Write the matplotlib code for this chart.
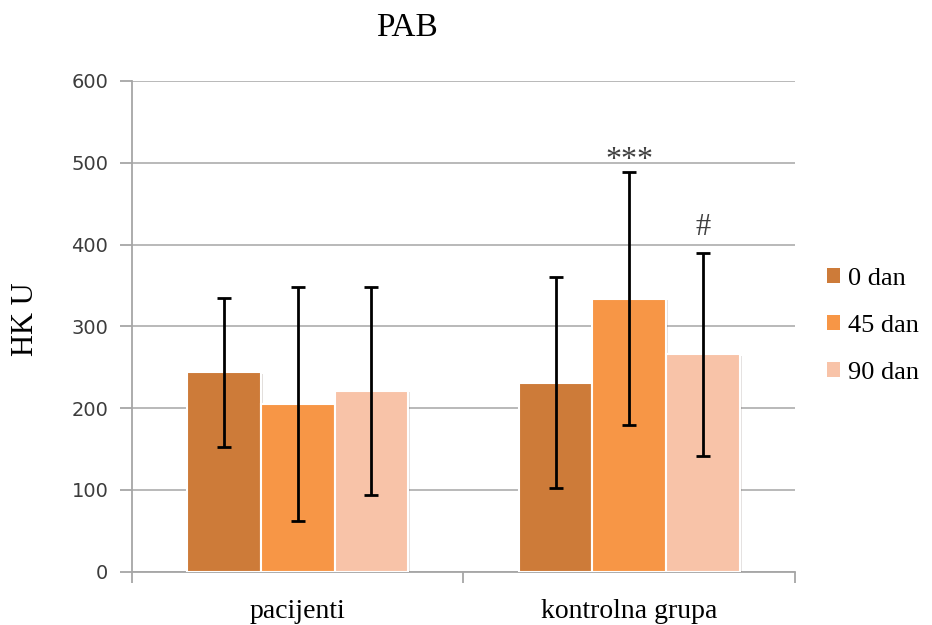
import matplotlib
matplotlib.use("Agg")
import matplotlib.pyplot as plt
import matplotlib.patheffects as pe
from matplotlib.patches import Patch
import numpy as np

# data
categories = ["pacijenti", "kontrolna grupa"]
series = ["0 dan", "45 dan", "90 dan"]
means_0 = [244, 231]
means_45 = [205, 334]
means_90 = [221, 266]
err_0 = [91, 129]
err_45 = [143, 155]
err_90 = [127, 124]
marks_45 = ["", "***"]
marks_90 = ["", "#"]

colors = ["#CD7B39", "#F79646", "#F8C3A8"]
serif = ["Liberation Serif", "DejaVu Serif"]

fig = plt.figure(figsize=(9.32, 6.25), dpi=100)
ax = fig.add_axes([0.1416, 0.0853, 0.7114, 0.7851])

x = np.arange(len(categories))
w = 1 / 4.5
shadow = [pe.SimplePatchShadow(offset=(1.5, -1), alpha=0.15), pe.Normal()]

all_means = [means_0, means_45, means_90]
all_errs = [err_0, err_45, err_90]
for i, (m, e) in enumerate(zip(all_means, all_errs)):
    pos = x + (i - 1) * w
    bars = ax.bar(pos, m, width=w, color=colors[i], edgecolor="white",
                  linewidth=1.5, zorder=3)
    for b in bars:
        b.set_path_effects(shadow)
    ax.errorbar(pos, m, yerr=e, fmt="none", ecolor="black", elinewidth=2,
                capsize=5, capthick=2, zorder=4)

# significance marks
for j in range(len(categories)):
    if marks_45[j]:
        ax.annotate(marks_45[j], xy=(x[j], means_45[j] + err_45[j]),
                    xytext=(0, 3), textcoords="offset points",
                    ha="center", va="baseline", fontsize=23,
                    color="#404040", family=serif)
    if marks_90[j]:
        ax.annotate(marks_90[j], xy=(x[j] + w, means_90[j] + err_90[j]),
                    xytext=(0, 13), textcoords="offset points",
                    ha="center", va="baseline", fontsize=22,
                    color="#404040", family=serif)

ax.set_xlim(-0.5, 1.5)
ax.set_ylim(0, 600)
ax.set_yticks(range(0, 601, 100))
ax.yaxis.grid(True, color="#b3b3b3", linewidth=1.3, zorder=0)
ax.set_axisbelow(True)

for s in ["top", "right"]:
    ax.spines[s].set_visible(False)
for s in ["left", "bottom"]:
    ax.spines[s].set_color("#a6a6a6")
    ax.spines[s].set_linewidth(1.3)

ax.tick_params(axis="y", length=9, width=1.3, color="#a6a6a6",
               labelsize=14, labelcolor="#3c3c3c", pad=8)
ax.set_xticks(x)
ax.set_xticklabels(categories, fontsize=20, family=serif)
ax.tick_params(axis="x", which="major", length=0, pad=20)
ax.set_xticks([-0.5, 0.5, 1.5], minor=True)
ax.tick_params(axis="x", which="minor", length=8, width=1.3, color="#a6a6a6")

ax.set_ylabel("HK U", fontsize=22, family=serif)
ax.yaxis.set_label_coords(-0.138, 0.515)
fig.text(0.437, 0.955, "PAB", fontsize=24, family=serif, ha="center", va="center")

handles = [Patch(facecolor=c, edgecolor="none") for c in colors]
fig.legend(handles, series, loc="center left", bbox_to_anchor=(0.862, 0.478),
           frameon=False, prop={"family": serif, "size": 19},
           handlelength=0.5, handleheight=0.5, handletextpad=0.3,
           labelspacing=0.95)

fig.savefig("out.png", dpi=100)
